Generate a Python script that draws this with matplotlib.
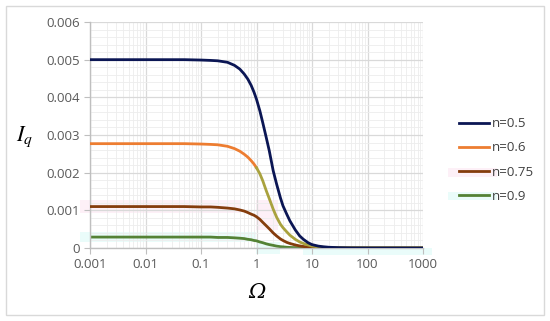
#!/usr/bin/env python3
"""I_q vs Omega for several flow indices n (log x axis)."""

import matplotlib.pyplot as plt
from matplotlib.patches import Rectangle
from matplotlib.ticker import FixedLocator, LogLocator, MultipleLocator, NullFormatter

omega = [0.001, 0.01, 0.05, 0.1, 0.15, 0.2, 0.3, 0.4, 0.5, 0.6, 0.7, 0.8, 0.9,
         1.0, 1.15, 1.3, 1.5, 1.7, 2.0, 2.3, 2.7, 3.0, 3.5, 4.0, 5.0, 6.0, 7.0,
         8.5, 10.0, 13.0, 16.0, 20.0, 30.0, 50.0, 100.0, 1000.0]

iq_n05 = [0.00500, 0.00500, 0.00500, 0.00499, 0.00498, 0.00497, 0.00493, 0.00485,
          0.00475, 0.00462, 0.00448, 0.00432, 0.00414, 0.00395, 0.00364, 0.00332,
          0.00293, 0.00258, 0.00205, 0.00170, 0.00133, 0.00112, 0.00090, 0.00072,
          0.00048, 0.00032, 0.00023, 0.00014, 0.00009, 0.00005, 0.000033, 0.00002,
          0.000009, 0.000003, 0.000001, 0.0]
iq_n06 = [0.00277, 0.00277, 0.00277, 0.00276, 0.00275, 0.00274, 0.00270, 0.00264,
          0.00257, 0.00249, 0.00241, 0.00232, 0.00223, 0.00213, 0.00197, 0.00178,
          0.00152, 0.00131, 0.00103, 0.00082, 0.00063, 0.00054, 0.00043, 0.00034,
          0.00023, 0.00016, 0.00012, 0.00008, 0.00005, 0.00003, 0.000018, 0.000011,
          0.000005, 0.000002, 0.000001, 0.0]
iq_n075 = [0.00110, 0.00110, 0.00110, 0.00109, 0.00109, 0.00108, 0.00106, 0.00104,
           0.00101, 0.00098, 0.00094, 0.00090, 0.00087, 0.00083, 0.00076, 0.00068,
           0.00059, 0.00051, 0.00040, 0.00032, 0.00024, 0.00020, 0.00015, 0.00012,
           0.00008, 0.000055, 0.00004, 0.000027, 0.00002, 0.000011, 0.000007,
           0.000004, 0.000002, 0.000001, 0.0, 0.0]
iq_n09 = [0.00029, 0.00029, 0.00029, 0.00029, 0.00029, 0.00028, 0.00028, 0.00027,
          0.00026, 0.00025, 0.00023, 0.00022, 0.00020, 0.00019, 0.00016, 0.00014,
          0.00011, 0.00009, 0.00007, 0.00005, 0.000035, 0.00003, 0.00002, 0.000015,
          0.00001, 0.000007, 0.000005, 0.000003, 0.000002, 0.000001, 0.0, 0.0,
          0.0, 0.0, 0.0, 0.0]

labels = ["n=0.5", "n=0.6", "n=0.75", "n=0.9"]
x_ticks = [0.001, 0.01, 0.1, 1, 10, 100, 1000]
x_tick_labels = ["0.001", "0.01", "0.1", "1", "10", "100", "1000"]
y_ticks = [0.0, 0.001, 0.002, 0.003, 0.004, 0.005, 0.006]
y_tick_labels = ["0", "0.001", "0.002", "0.003", "0.004", "0.005", "0.006"]

NAVY = "#0B1654"
ORANGE = "#ED7D31"
OLIVE = "#A9A23E"
BROWN = "#843C0C"
GREEN = "#548235"
TICK_GRAY = "#595959"

plt.rcParams["font.family"] = ["Open Sans", "DejaVu Sans"]
plt.rcParams["mathtext.fontset"] = "stix"

fig = plt.figure(figsize=(5.5, 3.21), dpi=100)
ax = fig.add_axes([90 / 550, 1 - 248 / 321, 333 / 550, 226 / 321])
ax.set_zorder(2)

# faint highlight smudges visible in the source image
pink = "#FDF0F7"
cyan = "#EAFCFA"
for (x0, y0, w, h, c) in [
    (80, 200, 160, 13, pink), (256, 200, 22, 30, pink),
    (80, 232, 176, 10, cyan), (256, 242, 24, 12, cyan), (303, 248, 129, 7, cyan),
    (448, 168, 49, 9, pink), (448, 192, 49, 8, cyan),
]:
    fig.patches.append(Rectangle((x0 / 550, 1 - (y0 + h) / 321), w / 550, h / 321,
                                 transform=fig.transFigure, facecolor=c,
                                 edgecolor="none", zorder=0))

ax.set_facecolor("none")
lw = 2.0
l1, = ax.plot(omega, iq_n05, color=NAVY, lw=lw, zorder=5)
split = omega.index(1.0)
l2, = ax.plot(omega[:split + 1], iq_n06[:split + 1], color=ORANGE, lw=lw, zorder=4)
ax.plot(omega[split:], iq_n06[split:], color=OLIVE, lw=lw, zorder=4)
l3, = ax.plot(omega, iq_n075, color=BROWN, lw=lw, zorder=3)
l4, = ax.plot(omega, iq_n09, color=GREEN, lw=lw, zorder=2)

ax.set_xscale("log")
ax.set_xlim(0.001, 1000)
ax.set_ylim(0, 0.006)
ax.xaxis.set_major_locator(FixedLocator(x_ticks))
ax.set_xticklabels(x_tick_labels)
ax.xaxis.set_minor_locator(LogLocator(base=10, subs=range(2, 10)))
ax.xaxis.set_minor_formatter(NullFormatter())
ax.yaxis.set_major_locator(FixedLocator(y_ticks))
ax.set_yticklabels(y_tick_labels)
ax.yaxis.set_minor_locator(MultipleLocator(0.0002))

ax.grid(True, which="major", color="#D9D9D9", lw=0.9)
ax.grid(True, which="minor", color="#EDEDED", lw=0.6)
ax.set_axisbelow(True)
for side in ("top", "right"):
    ax.spines[side].set_visible(False)
for side in ("left", "bottom"):
    ax.spines[side].set_color("#BFBFBF")
    ax.spines[side].set_linewidth(1.0)
ax.tick_params(which="major", length=4, color="#BFBFBF", labelsize=9.5,
               labelcolor=TICK_GRAY, pad=3)
ax.tick_params(which="minor", length=0)

fig.text(257 / 550, 1 - 292 / 321, "Ω", fontsize=15, family="DejaVu Serif",
         style="italic", ha="center", va="center")
fig.text(25 / 550, 1 - 137 / 321, r"$I_q$", fontsize=16, ha="center", va="center")

fig.legend([l1, l2, l3, l4], labels, loc="center left",
           bbox_to_anchor=(447 / 550, 1 - 160 / 321), frameon=False,
           fontsize=9.5, labelcolor="#404040", handlelength=2.3,
           handletextpad=0.2, labelspacing=0.85)

fig.patches.append(Rectangle((6 / 550, 6 / 321), 538 / 550, 309 / 321,
                             transform=fig.transFigure, fill=False,
                             edgecolor="#D9D9D9", lw=1.0))

fig.savefig("out.png", dpi=100)
